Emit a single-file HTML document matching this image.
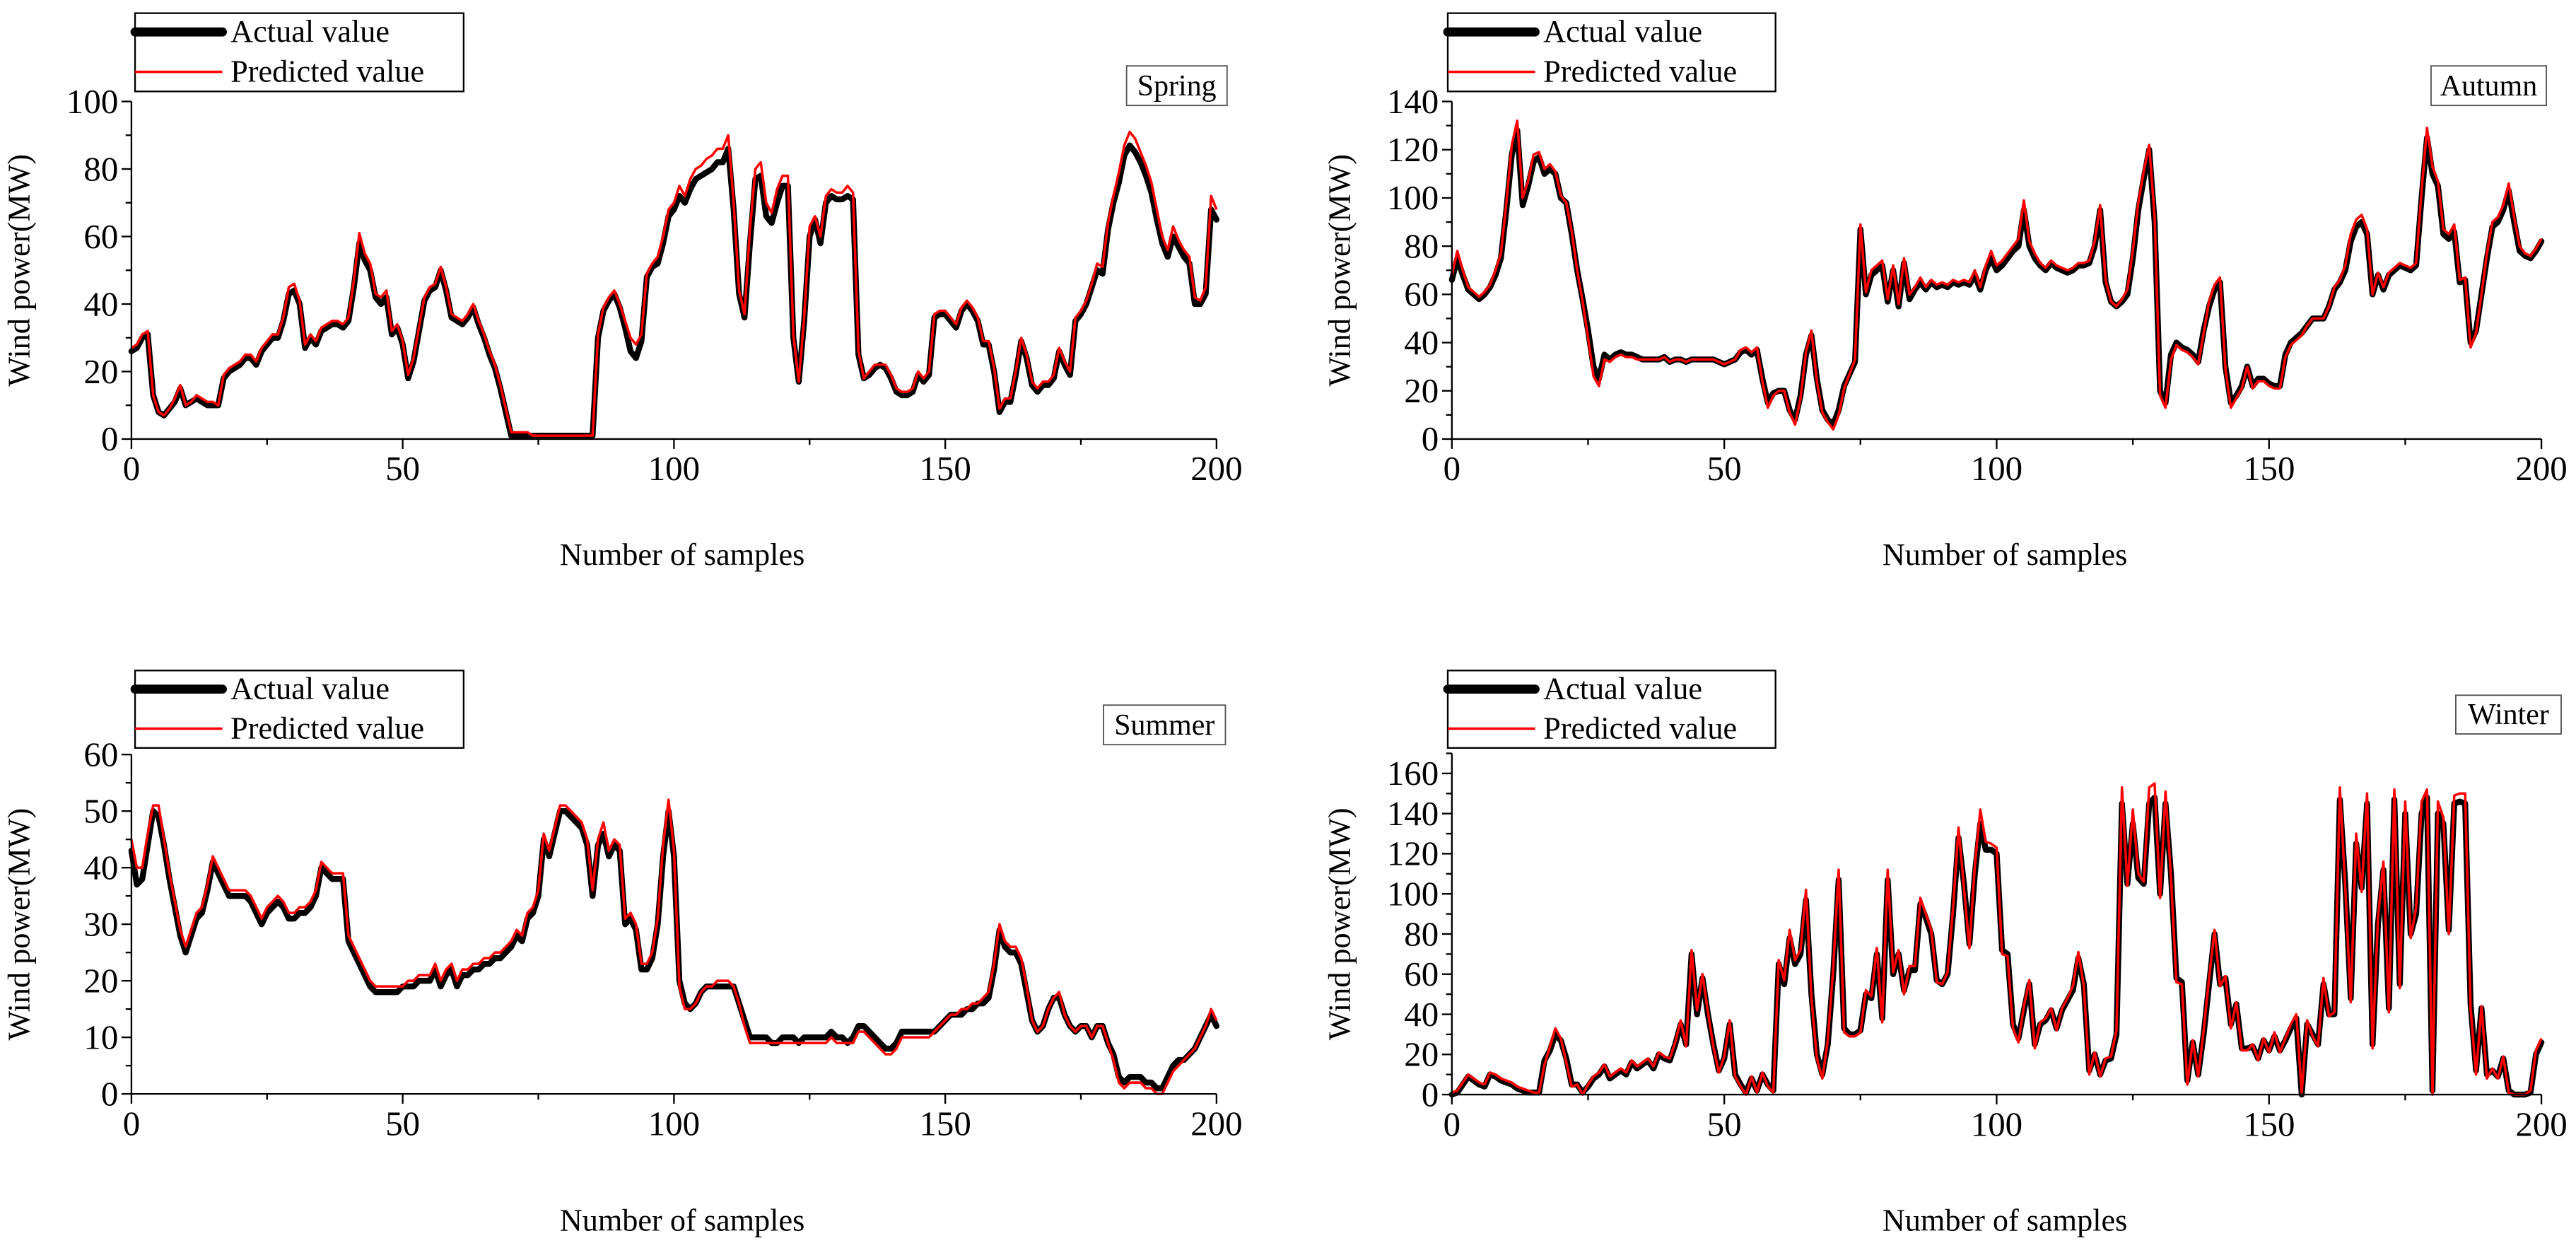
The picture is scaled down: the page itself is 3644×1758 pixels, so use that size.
<!DOCTYPE html>
<html><head><meta charset="utf-8"><style>
html,body{margin:0;padding:0;background:#fff;}
svg{display:block;font-family:"Liberation Serif",serif;}
</style></head><body>
<svg id="fig" width="3644" height="1758" viewBox="0 0 1564 754.5" preserveAspectRatio="none" xmlns="http://www.w3.org/2000/svg"></svg>
<script>
const samples = Array.from({length:201},(_,i)=>i);
const xTicks = [0,50,100,150,200];
const springActual = [26,27,30,31,13,8,7,9,11,15,10,11,12,11,10,10,10,18,20,21,22,24,24,22,26,28,30,30,35,43,44,40,27,30,28,32,33,34,34,33,35,45,58,53,50,42,40,42,31,33,28,18,23,32,41,44,45,50,44,36,35,34,36,39,34,30,25,21,15,8,1,1,1,1,1,1,1,1,1,1,1,1,1,1,1,1,30,38,41,43,39,33,26,24,29,48,51,52,58,66,68,72,70,74,77,78,79,80,82,82,86,68,43,36,58,77,78,66,64,70,75,75,30,17,35,60,65,58,70,72,71,71,72,71,25,18,19,21,22,21,18,14,13,13,14,19,17,19,36,37,37,35,33,38,40,38,35,28,28,20,8,11,11,19,29,24,16,14,16,16,18,26,22,19,35,37,40,45,50,49,62,70,76,84,87,85,82,78,73,65,58,54,60,57,54,52,40,40,43,68,65];
const springPred = [27,28,31,32,13,8,7,9,12,16,10,11,13,12,11,11,10,19,21,22,23,25,25,23,27,29,31,31,36,45,46,41,28,31,29,33,34,35,35,34,36,47,61,55,52,43,42,44,32,34,29,19,24,33,42,45,46,51,45,37,36,35,37,40,35,31,26,22,16,9,2,2,2,2,1,1,1,1,1,1,1,1,1,1,1,1,31,39,42,44,40,35,30,28,31,49,52,54,60,68,70,75,72,77,80,81,83,84,86,86,90,70,44,37,62,80,82,70,67,74,78,78,31,17,36,63,66,60,72,74,73,73,75,73,26,18,20,22,22,22,19,15,14,14,15,20,18,20,37,38,38,36,34,39,41,39,36,29,29,21,9,12,12,20,30,25,17,15,17,17,19,27,23,20,36,38,41,46,52,51,64,72,79,87,91,89,85,81,76,68,60,56,63,59,56,54,42,41,45,72,68];
const autumnActual = [66,75,68,62,60,58,60,63,68,75,95,118,128,97,105,115,117,110,112,110,100,98,85,70,58,45,30,25,35,33,35,36,35,35,34,33,33,33,33,34,32,33,33,32,33,33,33,33,33,32,31,32,33,36,37,35,37,25,15,19,20,20,12,8,18,35,43,25,12,8,6,12,22,27,32,87,60,68,70,72,57,70,55,73,58,62,65,62,65,63,64,63,65,64,65,64,68,62,70,75,70,72,75,78,80,95,80,75,72,70,73,71,70,69,70,72,72,73,80,95,65,57,55,57,60,75,95,108,120,90,20,15,35,40,38,37,35,32,45,55,62,65,30,15,18,22,30,22,25,25,23,22,22,35,40,42,44,47,50,50,50,55,62,65,70,82,88,90,85,60,68,62,68,70,72,71,70,72,100,125,110,105,85,83,86,65,66,40,45,60,75,88,90,95,103,90,78,76,75,78,82];
const autumnPred = [68,78,70,63,61,59,61,64,70,77,98,122,132,100,107,118,119,112,114,111,101,98,86,70,57,42,26,22,33,32,34,35,34,34,33,33,33,33,33,34,32,33,33,32,33,33,33,33,33,32,31,32,33,37,38,36,38,24,13,18,20,20,11,6,17,36,45,24,11,7,4,10,21,27,33,89,61,70,72,74,58,72,56,75,60,63,67,63,66,64,65,64,66,65,66,65,70,63,72,78,72,74,77,80,83,99,82,77,73,71,74,72,71,70,71,73,73,74,82,97,66,57,55,58,62,78,98,111,122,92,18,13,33,39,37,36,34,31,44,57,64,67,29,13,17,21,30,21,24,24,22,21,21,34,39,41,43,47,50,50,50,55,63,66,72,85,91,93,87,60,69,63,69,71,73,72,71,73,103,129,113,107,87,85,89,66,67,38,44,60,77,90,92,97,106,92,80,77,76,79,83];
const summerActual = [43,37,38,44,50,49,44,38,33,28,25,28,31,32,36,41,39,37,35,35,35,35,34,32,30,32,33,34,33,31,31,32,32,33,35,40,39,38,38,38,27,25,23,21,19,18,18,18,18,18,19,19,19,20,20,20,22,19,21,22,19,21,21,22,22,23,23,24,24,25,26,28,27,31,32,35,45,42,46,50,50,49,48,47,44,35,44,46,42,44,43,30,31,29,22,22,24,30,42,50,42,20,16,15,16,18,19,19,19,19,19,19,16,13,10,10,10,10,9,9,10,10,10,9,10,10,10,10,10,11,10,10,9,10,12,12,11,10,9,8,8,9,11,11,11,11,11,11,11,12,13,14,14,14,15,15,16,16,17,22,29,26,25,25,23,18,13,11,12,15,17,17,14,12,11,12,12,10,12,12,9,7,3,2,3,3,3,2,2,1,1,3,5,6,6,7,8,10,12,14,12];
const summerPred = [45,40,40,46,51,51,45,39,34,29,26,29,32,33,37,42,40,38,36,36,36,36,35,33,31,33,34,35,34,32,32,33,33,34,36,41,40,39,39,39,28,26,24,22,20,19,19,19,19,19,19,20,20,21,21,21,23,20,22,23,20,22,22,23,23,24,24,25,25,26,27,29,28,32,33,36,46,43,47,51,51,50,49,48,45,36,45,48,43,45,44,31,32,30,23,23,25,31,44,52,43,19,15,15,16,18,19,19,20,20,20,19,16,12,9,9,9,9,9,9,9,9,9,9,9,9,9,9,9,10,9,9,9,9,11,11,10,9,8,7,7,8,10,10,10,10,10,10,11,12,13,14,14,15,15,16,16,17,18,23,30,27,26,26,24,19,13,11,12,15,17,18,14,12,11,12,12,10,12,12,9,6,2,1,2,2,2,1,1,0,0,2,4,5,6,7,8,10,12,15,13];
const winterActual = [0,1,5,9,7,5,4,10,9,7,6,5,3,2,1,1,1,17,22,30,27,18,5,5,1,4,8,10,14,8,10,12,10,16,13,15,17,13,20,18,17,25,35,25,70,40,58,40,25,12,18,35,10,5,1,8,2,10,5,2,65,55,78,65,70,97,50,20,10,25,60,107,33,30,30,32,50,48,70,38,107,60,70,52,62,62,95,88,80,57,55,60,90,128,105,75,110,135,122,122,120,72,70,35,28,42,55,25,35,37,42,33,42,47,52,68,55,12,20,10,17,18,30,145,105,135,108,105,145,148,100,145,110,58,56,7,26,10,30,55,80,55,58,35,45,23,23,24,18,27,22,29,22,27,33,38,0,35,30,25,55,40,40,147,105,48,125,103,145,25,85,112,43,147,55,140,80,90,140,148,2,140,135,82,145,146,145,45,12,43,10,12,9,18,2,0,0,0,1,20,26];
const winterPred = [1,2,6,10,8,6,5,11,10,8,7,6,4,3,2,1,1,15,24,33,28,16,4,5,0,5,9,11,15,9,11,13,11,17,14,16,18,14,21,19,18,26,37,24,72,42,60,41,24,11,19,37,9,4,0,9,1,11,4,1,67,57,82,67,72,102,48,18,8,27,63,112,31,29,29,31,52,49,73,36,112,61,72,50,64,64,98,90,82,56,55,61,93,133,103,73,114,142,126,125,123,70,69,33,26,44,57,23,36,38,43,32,43,48,54,71,54,10,21,9,18,19,32,153,104,142,110,106,153,155,98,151,108,56,55,5,27,9,32,58,82,54,59,33,46,22,22,25,17,28,21,31,21,28,35,40,1,37,29,24,58,39,41,153,103,46,130,101,150,23,88,116,41,152,53,146,78,93,146,152,0,146,138,80,149,150,150,43,10,44,8,13,8,19,1,0,0,0,2,22,28];

const NS="http://www.w3.org/2000/svg";
const svg=document.getElementById('fig');
function mk(tag,attrs,parent){const e=document.createElementNS(NS,tag);for(const k in attrs)e.setAttribute(k,attrs[k]);(parent||svg).appendChild(e);return e;}

const panels=[
 {key:'spring',title:'Spring',actual:springActual,pred:springPred,L:79.8,R:738.6,B:266.5,T:61.6,ymax:100,major:20,minor:10,lg:[82,8,281.5,55.5],bx:[684,40,745,64],xt:343},
 {key:'autumn',title:'Autumn',actual:autumnActual,pred:autumnPred,L:881.5,R:1543,B:266.5,T:61.6,ymax:140,major:20,minor:10,lg:[879,8,1078,55.5],bx:[1476,40,1546,64],xt:343},
 {key:'summer',title:'Summer',actual:summerActual,pred:summerPred,L:79.8,R:738.6,B:664,T:458,ymax:60,major:10,minor:5,lg:[82,407,281.5,454],bx:[670,428,744,452],xt:747},
 {key:'winter',title:'Winter',actual:winterActual,pred:winterPred,L:881.5,R:1543,B:664.4,T:457.3,ymax:170,major:20,minor:10,lg:[879,407,1078,454],bx:[1491,422,1555,445.5],xt:747}
];

panels.forEach(p=>{
 const g=mk('g',{});
 
 
 const xs=v=>p.L+(v/200)*(p.R-p.L);
 const ys=v=>p.B-(v/p.ymax)*(p.B-p.T);
 const pa=samples.map((s,i)=>xs(s).toFixed(2)+','+ys(p.actual[i]).toFixed(2)).join(' ');
 const la=mk('polyline',{points:pa,fill:'none',stroke:'#000','stroke-width':3.6,'stroke-linejoin':'round','stroke-linecap':'round'},g);
 
 
 const pp=samples.map((s,i)=>xs(s).toFixed(2)+','+ys(p.pred[i]).toFixed(2)).join(' ');
 const lp=mk('polyline',{points:pp,fill:'none',stroke:'#f00','stroke-width':1.5,'stroke-linejoin':'round'},g);
 
 
 const ax=mk('path',{d:`M${p.L},${p.T} V${p.B} H${p.R}`,fill:'none',stroke:'#000','stroke-width':1},g);
 
 
 for(let v=0;v<=p.ymax+0.01;v+=p.minor){
   const isMaj=Math.abs(v/p.major-Math.round(v/p.major))<1e-6;
   mk('line',{x1:p.L-(isMaj?6:3.5),x2:p.L,y1:ys(v),y2:ys(v),stroke:'#000','stroke-width':1},g);
   if(isMaj){
     const t=mk('text',{x:p.L-8,y:ys(v)+7,'text-anchor':'end','font-size':21},g);
     t.textContent=v;
     
     
   }
 }
 for(let v=0;v<=200;v+=25){
   const isMaj=v%50===0;
   mk('line',{x1:xs(v),x2:xs(v),y1:p.B,y2:p.B+(isMaj?6:3.5),stroke:'#000','stroke-width':1},g);
 }
 xTicks.forEach(v=>{
   const t=mk('text',{x:xs(v),y:p.B+25,'text-anchor':'middle','font-size':21},g);
   t.textContent=v;
   
   
 });
 const xt=mk('text',{x:(p.L+p.R)/2+5,y:p.xt,'text-anchor':'middle','font-size':19},g);
 xt.textContent='Number of samples';
 
 
 const cy=(p.T+p.B)/2, cx=p.L-62;
 const yt=mk('text',{x:cx,y:cy,'text-anchor':'middle','font-size':19,transform:`rotate(-90 ${cx} ${cy})`},g);
 yt.textContent='Wind power(MW)';
 
 
 const [x1,y1,x2,y2]=p.lg;
 const lg=mk('g',{},g);
 
 
 mk('rect',{x:x1,y:y1,width:x2-x1,height:y2-y1,fill:'#fff',stroke:'#000','stroke-width':1},lg);
 const r1=y1+(y2-y1)*0.24, r2=y1+(y2-y1)*0.75;
 mk('line',{x1:x1,x2:x1+53,y1:r1,y2:r1,stroke:'#000','stroke-width':5.5,'stroke-linecap':'round'},lg);
 mk('line',{x1:x1,x2:x1+53,y1:r2,y2:r2,stroke:'#f00','stroke-width':1.5},lg);
 const t1=mk('text',{x:x1+58,y:r1+6,'font-size':19},lg); t1.textContent='Actual value';
 
 
 const t2=mk('text',{x:x1+58,y:r2+6,'font-size':19},lg); t2.textContent='Predicted value';
 
 
 const [bx1,by1,bx2,by2]=p.bx;
 const sb=mk('g',{},g);
 
 
 mk('rect',{x:bx1,y:by1,width:bx2-bx1,height:by2-by1,fill:'#fff',stroke:'#555','stroke-width':0.8},sb);
 const st=mk('text',{x:(bx1+bx2)/2,y:by2-6,'text-anchor':'middle','font-size':18},sb);
 st.textContent=p.title;
});
</script>
</body></html>
